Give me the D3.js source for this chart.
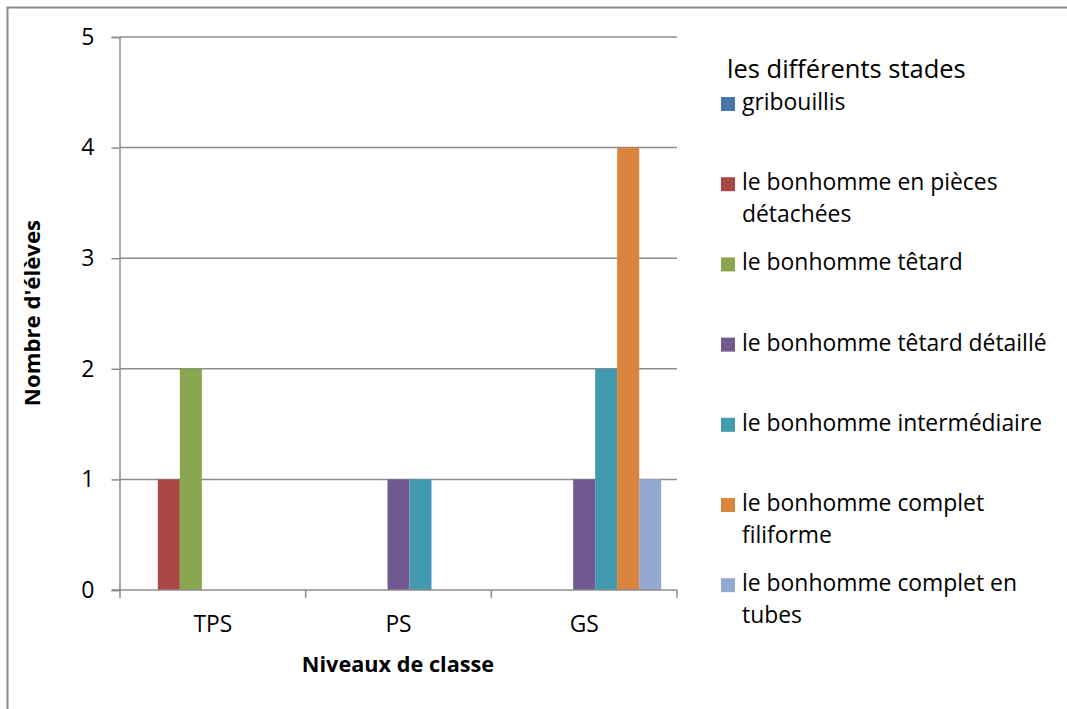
<!DOCTYPE html>
<html><head><meta charset="utf-8">
<script src="https://cdn.jsdelivr.net/npm/d3@7"></script>
<style>body{margin:0;background:#fff}svg{display:block;font-family:"Open Sans",sans-serif}</style>
</head><body><svg id="c" width="1067" height="709"></svg>
<script>
const categories = ["TPS","PS","GS"];
const seriesNames = ["gribouillis","le bonhomme en pièces détachées","le bonhomme têtard","le bonhomme têtard détaillé","le bonhomme intermédiaire","le bonhomme complet filiforme","le bonhomme complet en tubes"];
const legendLines = [["gribouillis"],["le bonhomme en pièces","détachées"],["le bonhomme têtard"],["le bonhomme têtard détaillé"],["le bonhomme intermédiaire"],["le bonhomme complet","filiforme"],["le bonhomme complet en","tubes"]];
const colors = ["#4A76AE","#AA4643","#89A54E","#725990","#4399B0","#DB843D","#93A9CF"];
const valTPS = [0,1,2,0,0,0,0];
const valPS  = [0,0,0,1,1,0,0];
const valGS  = [0,0,0,1,2,4,1];
const yTicks = [0,1,2,3,4,5];
const values = [valTPS, valPS, valGS];

const svg = d3.select("#c");
svg.append("rect").attr("x",7.5).attr("y",7.5).attr("width",1100).attr("height",800)
  .attr("fill","#fff").attr("stroke","#8a8a8a").attr("stroke-width",2);

const L=120, R=677, T=37, B=590;
const x = d3.scaleBand().domain(categories).range([L,R]).padding(0);
const xs = d3.scaleBand().domain(d3.range(7)).range([0,x.bandwidth()]).paddingInner(0).paddingOuter(0.72);
const y = d3.scaleLinear().domain([0,5]).range([B,T]);

// gridlines
svg.append("g").selectAll("line").data(yTicks.filter(d=>d>0)).join("line")
  .attr("x1",L).attr("x2",R).attr("y1",d=>y(d)).attr("y2",d=>y(d))
  .attr("stroke","#8c8c8c").attr("stroke-width",1.5);

// bars
const g = svg.append("g");
categories.forEach((c,ci)=>{
  values[ci].forEach((v,si)=>{
    if(v<=0) return;
    g.append("rect").attr("x",x(c)+xs(si)).attr("width",xs.bandwidth())
      .attr("y",y(v)).attr("height",y(0)-y(v)).attr("fill",colors[si]);
  });
});

// y axis
const ya = d3.axisLeft(y).tickValues(yTicks).tickSize(8).tickPadding(17).tickFormat(d3.format("d"));
const yg = svg.append("g").attr("transform",`translate(${L-0.5},0)`).call(ya);
yg.select(".domain").attr("stroke","#8c8c8c").attr("stroke-width",1.5);
yg.selectAll(".tick line").attr("stroke","#8c8c8c").attr("stroke-width",1.5);
yg.selectAll(".tick text").attr("font-size",23).attr("fill","#000").attr("font-family","Open Sans");

// x axis
const xg = svg.append("g").attr("transform",`translate(0,${B})`);
xg.append("line").attr("x1",L-8).attr("x2",R).attr("y1",0).attr("y2",0).attr("stroke","#8c8c8c").attr("stroke-width",1.5);
const bounds = [L].concat(categories.map(c=>x(c)+x.bandwidth()));
xg.selectAll("line.t").data(bounds).join("line").attr("class","t")
  .attr("x1",d=>d).attr("x2",d=>d).attr("y1",0).attr("y2",8).attr("stroke","#8c8c8c").attr("stroke-width",1.5);
xg.selectAll("text").data(categories).join("text")
  .attr("x",d=>x(d)+x.bandwidth()/2).attr("y",42).attr("text-anchor","middle")
  .attr("font-size",22.8).text(d=>d);

// axis titles
svg.append("text").attr("x",398).attr("y",672).attr("text-anchor","middle")
  .attr("font-size",21.7).attr("font-weight","bold").text("Niveaux de classe");
svg.append("text").attr("transform","translate(40,313) rotate(-90)").attr("text-anchor","middle")
  .attr("font-size",22.2).attr("font-weight","bold").text("Nombre d'élèves");

// legend
svg.append("text").attr("x",727).attr("y",78).attr("font-size",25.5).text("les différents stades");
const lg = svg.append("g");
seriesNames.forEach((s,i)=>{
  const top = 97 + 80.2*i;
  lg.append("rect").attr("x",721).attr("y",top).attr("width",14).attr("height",14).attr("fill",colors[i]);
  legendLines[i].forEach((ln,j)=>{
    lg.append("text").attr("x",742).attr("y",top+13+32*j).attr("font-size",22.9).text(ln);
  });
});
</script></body></html>
